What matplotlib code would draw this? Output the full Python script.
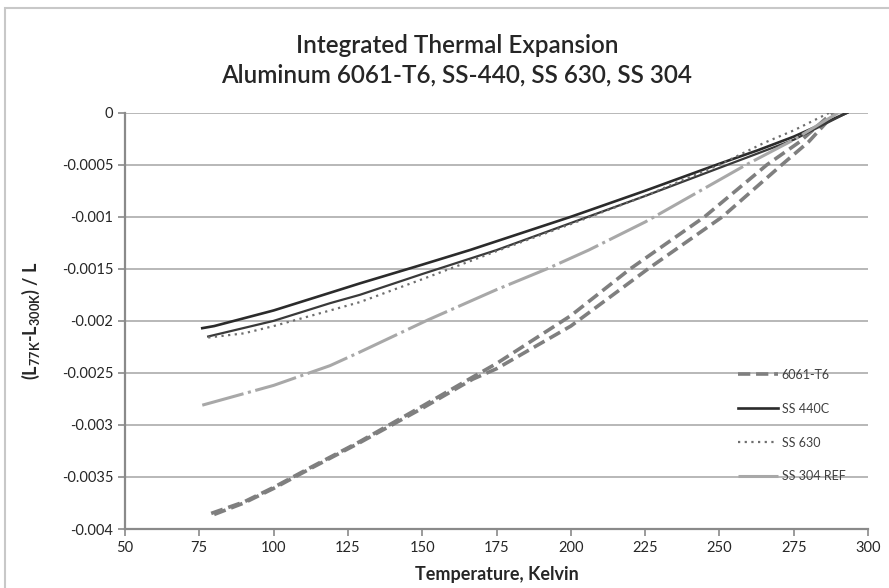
import matplotlib
matplotlib.use('Agg')
import matplotlib.pyplot as plt
from matplotlib.ticker import FuncFormatter, MultipleLocator
from matplotlib.patches import Rectangle

plt.rcParams['font.family'] = ['Lato', 'DejaVu Sans']
plt.rcParams['mathtext.fontset'] = 'custom'
plt.rcParams['mathtext.rm'] = 'Lato'
plt.rcParams['mathtext.bf'] = 'Lato:bold'

# Données (température en K, (L - L300K)/L)
t_6061_a = [79, 90, 100, 113, 129, 150, 167, 175, 200, 220, 245, 266, 277, 288]
e_6061_a = [-0.00385, -0.00374, -0.0036, -0.0034, -0.00316, -0.00282, -0.00254,
            -0.00241, -0.00195, -0.0015, -0.001, -0.0005, -0.00028, 0.0]
t_6061_b = [80, 90, 100, 113, 129, 150, 167, 175, 200, 226, 251, 271, 280, 289]
e_6061_b = [-0.00386, -0.00375, -0.00361, -0.00341, -0.00317, -0.00284, -0.00256,
            -0.00246, -0.00205, -0.0015, -0.001, -0.0005, -0.00028, 0.0]

t_440_a = [76, 80, 100, 119, 129, 150, 166, 200, 225, 250, 263, 275, 293]
e_440_a = [-0.00207, -0.00205, -0.0019, -0.00173, -0.00164, -0.00146, -0.00132,
           -0.001, -0.00075, -0.00049, -0.00036, -0.00023, 0.0]
t_440_b = [78, 100, 119, 129, 150, 175, 200, 225, 250, 263, 275, 293]
e_440_b = [-0.00215, -0.002, -0.00183, -0.00175, -0.00155, -0.00132, -0.00106,
           -0.0008, -0.00053, -0.00039, -0.00026, 0.0]

t_630 = [78, 90, 100, 119, 129, 150, 175, 200, 225, 250, 265, 275, 287]
e_630 = [-0.00216, -0.00212, -0.00205, -0.0019, -0.00182, -0.0016, -0.00133,
         -0.00107, -0.0008, -0.0005, -0.00029, -0.00017, 0.0]

t_304 = [76, 100, 113, 119, 129, 152, 175, 192, 206, 225, 259, 275, 290]
e_304 = [-0.00281, -0.00262, -0.00249, -0.00243, -0.0023, -0.00199, -0.0017,
         -0.0015, -0.00132, -0.00105, -0.0005, -0.00026, 0.0]

fig = plt.figure(figsize=(8.89, 5.88), dpi=100)
ax = fig.add_axes([0.1406, 0.1003, 0.8358, 0.708])

# cadre du graphique
fig.patches.append(Rectangle((5 / 889, -0.1), 1.2, 1.1 - 8 / 588, transform=fig.transFigure,
                             fill=False, edgecolor='#c8c8c8', linewidth=1.5))

ax.plot(t_6061_a, e_6061_a, color='#7f7f7f', lw=2.6, dashes=(3.4, 1.6), label='6061-T6')
ax.plot(t_6061_b, e_6061_b, color='#7f7f7f', lw=2.6, dashes=(3.4, 1.6))
ax.plot(t_440_a, e_440_a, color='#2b2b2b', lw=1.9, label='SS 440C')
ax.plot(t_440_b, e_440_b, color='#3a3a3a', lw=1.6)
ax.plot(t_630, e_630, color='#6e6e6e', lw=1.6, dashes=(1, 2), label='SS 630')
ax.plot(t_304, e_304, color='#a8a8a8', lw=2.2, dashes=(14, 1.5, 1, 1.5), label='SS 304 REF')

ax.set_xlim(50, 300)
ax.set_ylim(-0.004, 0)
ax.xaxis.set_major_locator(MultipleLocator(25))
ax.yaxis.set_major_locator(MultipleLocator(0.0005))
ax.yaxis.set_major_formatter(FuncFormatter(lambda v, p: '0' if abs(v) < 1e-12 else '%g' % v))
ax.grid(axis='y', color='#b8b8b8', lw=1.4)
ax.set_axisbelow(True)
for s in ['top', 'right']:
    ax.spines[s].set_visible(False)
for s in ['left', 'bottom']:
    ax.spines[s].set_color('#8a8a8a')
    ax.spines[s].set_linewidth(1.6)
ax.tick_params(colors='#8a8a8a', labelcolor='#262626', labelsize=10.5, length=5, width=1.2)

fig.text(0.514, 0.922, 'Integrated Thermal Expansion', ha='center', va='center',
         fontsize=17.5, fontweight='semibold', color='#262626')
fig.text(0.514, 0.872, 'Aluminum 6061-T6, SS-440, SS 630, SS 304', ha='center', va='center',
         fontsize=17.5, fontweight='semibold', color='#262626')
ax.set_xlabel('Temperature, Kelvin', fontsize=13, fontweight='bold', color='#262626', labelpad=8)
ax.set_ylabel(r'(L$_{\mathbf{77K}}$-L$_{\mathbf{300K}}$) / L', fontsize=13, fontweight='bold',
              color='#262626', labelpad=14)

leg = ax.legend(loc='lower left', bbox_to_anchor=(0.81, 0.085), frameon=False, fontsize=9,
                handlelength=3.2, labelspacing=1.75, handletextpad=0.3, labelcolor='#404040')

fig.savefig('out.png', dpi=100)
